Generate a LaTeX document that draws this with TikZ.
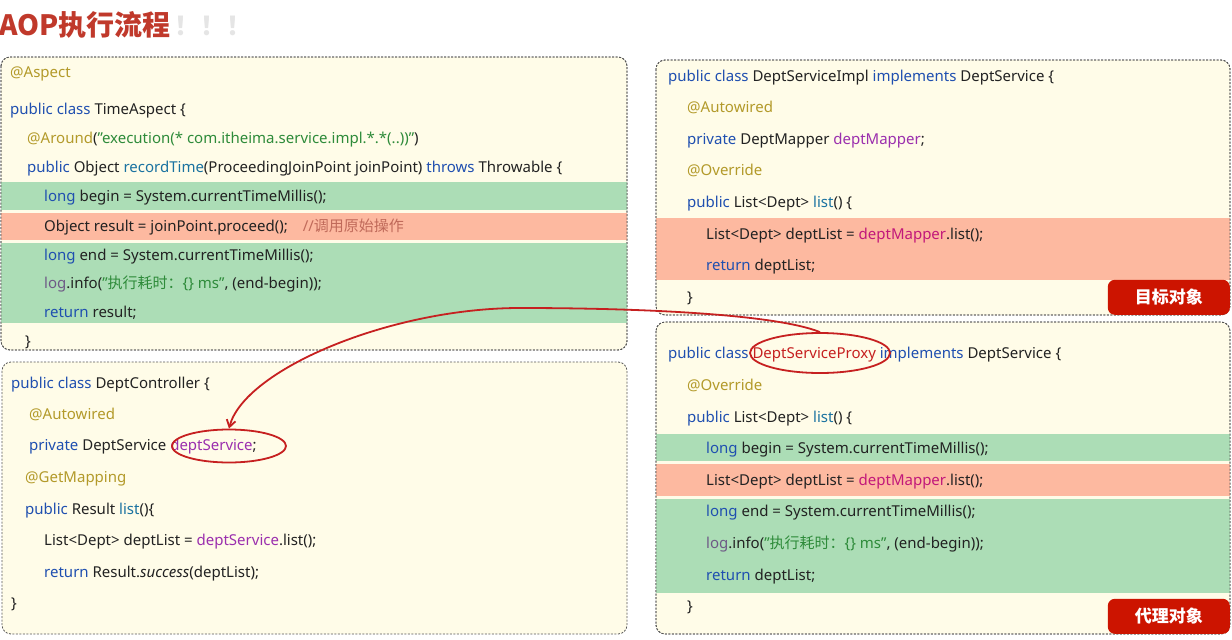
\documentclass[tikz,border=0pt]{standalone}
\usepackage{fontspec}
\setmainfont{Noto Sans}
\newfontfamily\cjk{Noto Sans CJK SC}
\usetikzlibrary{arrows.meta,shapes.geometric}
\definecolor{cream}{HTML}{FFFCE8}
\definecolor{rowgreen}{HTML}{ACDDB6}
\definecolor{rowred}{HTML}{FDB9A0}
\definecolor{kwblue}{HTML}{1F4FB0}
\definecolor{anncol}{HTML}{B39A2A}
\definecolor{strgreen}{HTML}{2E8B3A}
\definecolor{fldpurple}{HTML}{9B2FAE}
\definecolor{magcol}{HTML}{C2187A}
\definecolor{mthteal}{HTML}{1A72A0}
\definecolor{cmtcol}{HTML}{C06A5A}
\definecolor{logcol}{HTML}{6E5A86}
\definecolor{darktext}{HTML}{222222}
\definecolor{labelred}{HTML}{CC1400}
\definecolor{titlered}{HTML}{C0392B}
\definecolor{markred}{HTML}{C62020}
\definecolor{borderg}{HTML}{555555}
\newcommand{\ckw}[1]{\textcolor{kwblue}{#1}}
\newcommand{\cann}[1]{\textcolor{anncol}{#1}}
\newcommand{\cstr}[1]{\textcolor{strgreen}{#1}}
\newcommand{\cfld}[1]{\textcolor{fldpurple}{#1}}
\newcommand{\cmag}[1]{\textcolor{magcol}{#1}}
\newcommand{\cmth}[1]{\textcolor{mthteal}{#1}}
\newcommand{\ccmt}[1]{\textcolor{cmtcol}{#1}}
\newcommand{\clog}[1]{\textcolor{logcol}{#1}}
\newcommand{\qq}{\symbol{"22}}
\tikzset{
  codebox/.style={draw=borderg, fill=cream, line width=0.8pt, dash pattern=on 2pt off 1.5pt, rounded corners=9pt},
  code/.style={anchor=base west, inner sep=0pt, text=darktext, font=\fontsize{15}{17}\selectfont},
  tagbox/.style={fill=labelred, text=white, rounded corners=7pt, inner sep=0pt, minimum width=122pt, minimum height=35pt, font=\cjk\bfseries\fontsize{17}{19}\selectfont},
  ring/.style={draw=markred, line width=1.8pt, ellipse, inner sep=0pt},
  link/.style={draw=markred, line width=1.8pt, -{Straight Barb[length=7pt,width=9pt]}}
}
\begin{document}
\begin{tikzpicture}[x=1pt,y=-1pt]
\useasboundingbox (0,0) rectangle (1232,640);
% title
\node[anchor=base west, inner sep=0pt, text=titlered, font=\cjk\bfseries\fontsize{28}{30}\selectfont] (title) at (-1,35) {AOP执行流程};
\node[anchor=base west, inner sep=0pt, text=black!10, font=\cjk\bfseries\fontsize{26}{28}\selectfont] (ghost) at (174,35) {！！！};
% box 1
\path[codebox] (1,57) rectangle (627,350);
\begin{scope}
\clip[rounded corners=9pt] (1,57) rectangle (627,350);
\fill[rowgreen] (0,182) rectangle (628,210);
\fill[rowred] (0,213) rectangle (628,240);
\fill[rowgreen] (0,243) rectangle (628,323);
\end{scope}
\draw[codebox, fill=none] (1,57) rectangle (627,350);
\node[code] (a1) at (10,77) {\cann{@Aspect}};
\node[code] (a2) at (10,114) {\ckw{public class} TimeAspect \{};
\node[code] (a3) at (27,143) {\cann{@Around}(\cstr{\qq execution(* com.itheima.service.impl.*.*(..))\qq})};
\node[code] (a4) at (27,172) {\ckw{public} Object \cmth{recordTime}(ProceedingJoinPoint joinPoint) \ckw{throws} Throwable \{};
\node[code] (a5) at (44,201) {\ckw{long} begin = System.currentTimeMillis();};
\node[code] (a6) at (44,231) {Object result = joinPoint.proceed();\hspace{1em}\ccmt{//{\cjk 调用原始操作}}};
\node[code] (a7) at (44,260) {\ckw{long} end = System.currentTimeMillis();};
\node[code] (a8) at (44,288) {\clog{log}.info(\cstr{\qq{\cjk 执行耗时：}\{\} ms\qq}, (end-begin));};
\node[code] (a9) at (44,317) {\ckw{return} result;};
\node[code] (a10) at (25,346) {\}};
% box 2
\draw[codebox] (2,362) rectangle (627,634);
\node[code] (b1) at (11,388) {\ckw{public class} DeptController \{};
\node[code] (b2) at (29,419) {\cann{@Autowired}};
\node[code] (b3) at (29,450) {\ckw{private} DeptService \cfld{deptService};};
\node[code] (b4) at (25,482) {\cann{@GetMapping}};
\node[code] (b5) at (25,514) {\ckw{public} Result \cmth{list}()\{};
\node[code] (b6) at (44,545) {List<Dept> deptList = \cfld{deptService}.list();};
\node[code] (b7) at (44,577) {\ckw{return} Result.\textit{success}(deptList);};
\node[code] (b8) at (11,608) {\}};
% box 3
\path[codebox] (656,60) rectangle (1230,315);
\begin{scope}
\clip[rounded corners=9pt] (656,60) rectangle (1230,315);
\fill[rowred] (655,218) rectangle (1231,280);
\end{scope}
\draw[codebox, fill=none] (656,60) rectangle (1230,315);
\node[code] (c1) at (668,81) {\ckw{public class} DeptServiceImpl \ckw{implements} DeptService \{};
\node[code] (c2) at (687,112) {\cann{@Autowired}};
\node[code] (c3) at (687,144) {\ckw{private} DeptMapper \cfld{deptMapper};};
\node[code] (c4) at (687,175) {\cann{@Override}};
\node[code] (c5) at (687,207) {\ckw{public} List<Dept> \cmth{list}() \{};
\node[code] (c6) at (706,239) {List<Dept> deptList = \cmag{deptMapper}.list();};
\node[code] (c7) at (706,270) {\ckw{return} deptList;};
\node[code] (c8) at (687,302) {\}};
\node[tagbox, anchor=south east] (tag1) at (1230,315) {目标对象};
% box 4
\path[codebox] (656,322) rectangle (1230,634);
\begin{scope}
\clip[rounded corners=9pt] (656,322) rectangle (1230,634);
\fill[rowgreen] (655,434) rectangle (1231,461);
\fill[rowred] (655,464) rectangle (1231,496);
\fill[rowgreen] (655,499) rectangle (1231,593);
\end{scope}
\draw[codebox, fill=none] (656,322) rectangle (1230,634);
\node[code] (d1) at (668,358) {\ckw{public class} \textcolor{markred}{DeptServiceProxy} \ckw{implements} DeptService \{};
\node[code] (d2) at (687,390) {\cann{@Override}};
\node[code] (d3) at (687,422) {\ckw{public} List<Dept> \cmth{list}() \{};
\node[code] (d4) at (706,453) {\ckw{long} begin = System.currentTimeMillis();};
\node[code] (d5) at (706,485) {List<Dept> deptList = \cmag{deptMapper}.list();};
\node[code] (d6) at (706,516) {\ckw{long} end = System.currentTimeMillis();};
\node[code] (d7) at (706,548) {\clog{log}.info(\cstr{\qq{\cjk 执行耗时：}\{\} ms\qq}, (end-begin));};
\node[code] (d8) at (706,580) {\ckw{return} deptList;};
\node[code] (d9) at (687,611) {\}};
\node[tagbox, anchor=south east] (tag2) at (1230,634) {代理对象};
% rings and arrow
\node[ring, minimum width=140pt, minimum height=40pt] (pe) at (820,353) {};
\node[ring, minimum width=114pt, minimum height=33pt] (de) at (229,446) {};
\coordinate (mid) at (520,308);
\draw[link] (pe.north) .. controls (775,314) and (640,308) .. (mid) .. controls (390,308) and (244,370) .. (de.north);
\end{tikzpicture}
\end{document}
